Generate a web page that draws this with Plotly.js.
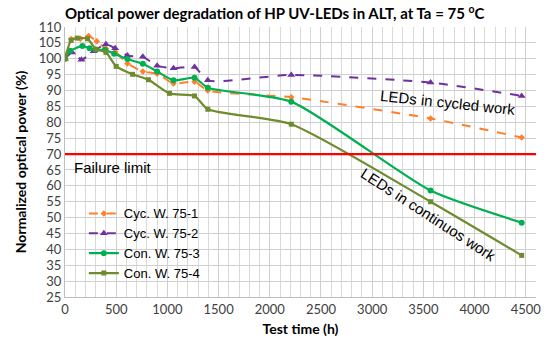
<!DOCTYPE html>
<html>
<head>
<meta charset="utf-8">
<script src="https://cdn.plot.ly/plotly-3.0.1.min.js"></script>
<style>html,body{margin:0;padding:0;background:#fff;}#chart{width:550px;height:346px;}</style>
</head>
<body>
<div id="chart"></div>
<script>
// Data
const seriesNames = ["Cyc. W. 75-1", "Cyc. W. 75-2", "Con. W. 75-3", "Con. W. 75-4"];

const timeCyc1 = [0, 60, 150, 230, 310, 400, 490, 610, 760, 900, 1060, 1265, 1395, 2210, 3570, 4460];
const powerCyc1 = [100, 106.2, 106.3, 107.2, 105.5, 103.2, 102.2, 98.5, 96.0, 95.3, 92.2, 92.8, 90.0, 87.9, 81.2, 75.2];

const timeCyc2 = [0, 70, 160, 280, 400, 490, 610, 760, 900, 1060, 1265, 1395, 2210, 3570, 4460];
const powerCyc2 = [100, 102.0, 99.7, 102.4, 104.6, 103.3, 101.0, 100.6, 97.8, 97.0, 97.4, 93.2, 94.9, 92.5, 88.3];

const timeCon3 = [0, 50, 170, 240, 300, 390, 480, 610, 760, 900, 1060, 1265, 1395, 2210, 3570, 4460];
const powerCon3 = [100, 102.5, 104.0, 103.3, 102.8, 102.8, 101.6, 99.9, 98.4, 96.0, 93.2, 94.0, 90.9, 86.5, 58.5, 48.4];

const timeCon4 = [0, 60, 120, 220, 300, 400, 500, 660, 815, 1020, 1265, 1395, 2210, 3570, 4460];
const powerCon4 = [100, 105.8, 106.5, 106.3, 103.0, 102.0, 97.6, 95.1, 93.4, 89.1, 88.3, 84.1, 79.4, 55.0, 38.1];

const failureLimit = 70;
const yTicks = [25, 30, 35, 40, 45, 50, 55, 60, 65, 70, 75, 80, 85, 90, 95, 100, 105, 110];
const xTicks = [0, 500, 1000, 1500, 2000, 2500, 3000, 3500, 4000, 4500];

const colors = ["#FF7F2A", "#7030A0", "#00B050", "#6E8B2E"];

const traces = [
  {x: timeCyc1, y: powerCyc1, name: seriesNames[0], mode: "lines+markers",
   line: {color: colors[0], width: 2, dash: "dash", shape: "spline", smoothing: 0.6},
   marker: {symbol: "diamond", size: 5, color: colors[0]}},
  {x: timeCyc2, y: powerCyc2, name: seriesNames[1], mode: "lines+markers",
   line: {color: colors[1], width: 2, dash: "dash", shape: "spline", smoothing: 0.6},
   marker: {symbol: "triangle-up", size: 7, color: colors[1]}},
  {x: timeCon3, y: powerCon3, name: seriesNames[2], mode: "lines+markers",
   line: {color: colors[2], width: 2.2, shape: "spline", smoothing: 0.6},
   marker: {symbol: "circle", size: 6, color: colors[2]}},
  {x: timeCon4, y: powerCon4, name: seriesNames[3], mode: "lines+markers",
   line: {color: colors[3], width: 2.2, shape: "spline", smoothing: 0.6},
   marker: {symbol: "square", size: 5, color: colors[3]}}
];

const layout = {
  width: 550, height: 346,
  margin: {l: 65, r: 14, t: 27, b: 49},
  paper_bgcolor: "#fff", plot_bgcolor: "#fff",
  font: {family: "Liberation Sans, Arial, sans-serif", color: "#404040", size: 12},
  title: {text: "<b>Optical power degradation of HP UV-LEDs in ALT, at Ta = 75 <sup>o</sup>C</b>",
          font: {family: "Lato, sans-serif", size: 15, color: "#000"}, xref: "container", x: 0.118, xanchor: "left", y: 0.975, yanchor: "top"},
  xaxis: {range: [0, 4600], tickvals: xTicks, ticktext: xTicks.map(String),
          showgrid: true, gridcolor: "#cfcfcf", gridwidth: 1,
          minor: {dtick: 100, showgrid: true, gridcolor: "#d9d9d9", gridwidth: 1, tick0: 0},
          zeroline: false, showline: true, linecolor: "#bfbfbf", ticks: "",
          tickfont: {family: "Lato, sans-serif", size: 13, color: "#404040"},
          title: {text: "<b>Test time (h)</b>", font: {family: "Lato, sans-serif", size: 14, color: "#000"}, standoff: 8}},
  yaxis: {range: [25, 110], tickvals: yTicks, ticktext: yTicks.map(String),
          showgrid: true, gridcolor: "#cfcfcf", gridwidth: 1,
          zeroline: false, showline: true, linecolor: "#bfbfbf", ticks: "",
          tickfont: {family: "Lato, sans-serif", size: 13, color: "#404040"},
          title: {text: "<b>Normalized optical power (%)</b>", font: {family: "Lato, sans-serif", size: 14, color: "#000"}, standoff: 8}},
  showlegend: true,
  legend: {x: 0.04, y: 0.365, xanchor: "left", yanchor: "top", bgcolor: "rgba(0,0,0,0)",
           font: {family: "Liberation Sans, Arial, sans-serif", size: 13, color: "#000"},
           itemwidth: 30, tracegroupgap: 0},
  shapes: [{type: "line", xref: "paper", x0: 0, x1: 1, yref: "y", y0: failureLimit, y1: failureLimit,
            line: {color: "#FF0000", width: 2.2}}],
  annotations: [
    {text: "Failure limit", xref: "paper", x: 0.015, yref: "y", y: failureLimit - 0.8, xanchor: "left", yanchor: "top",
     showarrow: false, font: {family: "Liberation Sans, Arial, sans-serif", size: 15, color: "#000"}},
    {text: "LEDs in cycled work", xref: "x", x: 3740, yref: "y", y: 86.2, xanchor: "center", yanchor: "middle",
     showarrow: false, textangle: 6, font: {family: "Liberation Sans, Arial, sans-serif", size: 15, color: "#000"}},
    {text: "LEDs in continuos work", xref: "x", x: 3550, yref: "y", y: 51.0, xanchor: "center", yanchor: "middle",
     showarrow: false, textangle: 33, font: {family: "Liberation Sans, Arial, sans-serif", size: 15, color: "#000"}}
  ]
};

Plotly.newPlot("chart", traces, layout, {displayModeBar: false, staticPlot: true});
</script>
</body>
</html>
